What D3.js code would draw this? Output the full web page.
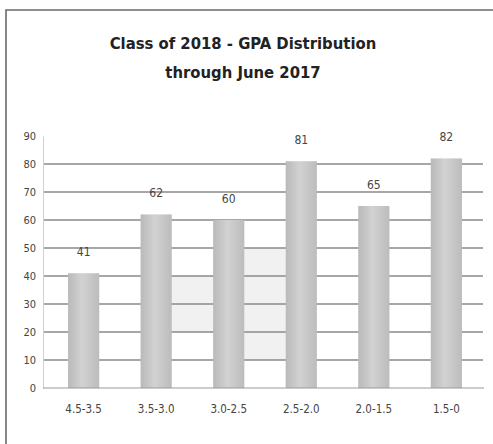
<!DOCTYPE html>
<html>
<head>
<meta charset="utf-8">
<script src="https://cdn.jsdelivr.net/npm/d3@7"></script>
<style>
  body { margin: 0; background: #fff; }
  svg { display: block; }
</style>
</head>
<body>
<div id="chart"></div>
<script>
var width = 493,
    height = 444;

// data
var categories = ["4.5-3.5", "3.5-3.0", "3.0-2.5", "2.5-2.0", "2.0-1.5", "1.5-0"];
var students = [41, 62, 60, 81, 65, 82];
var yTicks = [0, 10, 20, 30, 40, 50, 60, 70, 80, 90];
var titleLines = ["Class of 2018 - GPA Distribution", "through June 2017"];

var svg = d3.select("#chart").append("svg")
    .attr("width", width)
    .attr("height", height);

var narrow = "'Liberation Sans Narrow', 'DejaVu Sans Condensed', 'Roboto', sans-serif";

// bar shading, a bit darker at the edges
var grad = svg.append("defs").append("linearGradient")
    .attr("id", "barfill")
    .attr("x1", "0%").attr("x2", "100%");
grad.append("stop").attr("offset", "0%").attr("stop-color", "#b9b9b9");
grad.append("stop").attr("offset", "45%").attr("stop-color", "#d2d2d2");
grad.append("stop").attr("offset", "100%").attr("stop-color", "#bcbcbc");

// frame
svg.append("path")
    .attr("d", "M6,444 V10 H493")
    .attr("fill", "none")
    .attr("stroke", "#6a6a6a")
    .attr("stroke-width", 1.6);

var x = d3.scaleBand()
    .domain(categories)
    .range([47, 483])
    .paddingInner(0.57)
    .paddingOuter(0.29);

var y = d3.scaleLinear()
    .domain([0, 90])
    .range([388, 136]);

// faint shaded patches behind the middle bars (as in the scan)
var g = svg.append("g");
g.append("rect")
    .attr("x", x(categories[1]) + x.bandwidth())
    .attr("y", y(40))
    .attr("width", x(categories[2]) - x(categories[1]) - x.bandwidth())
    .attr("height", y(20) - y(40))
    .attr("fill", "#f1f1f1");
g.append("rect")
    .attr("x", x(categories[2]) + x.bandwidth())
    .attr("y", y(50))
    .attr("width", x(categories[3]) - x(categories[2]) - x.bandwidth())
    .attr("height", y(10) - y(50))
    .attr("fill", "#f1f1f1");

// gridlines
g.selectAll(".grid")
    .data(yTicks.filter(function(d) { return d > 0 && d < 90; }))
  .enter().append("line")
    .attr("class", "grid")
    .attr("x1", 44)
    .attr("x2", 483)
    .attr("y1", function(d) { return y(d); })
    .attr("y2", function(d) { return y(d); })
    .attr("stroke", "#8a8a8a")
    .attr("stroke-width", 1.4);

// y axis
var yAxis = svg.append("g")
    .attr("transform", "translate(43,0)")
    .call(d3.axisLeft(y).tickValues(yTicks).tickSize(0).tickPadding(7));
yAxis.select(".domain").attr("stroke", "#d0d0d0");
yAxis.selectAll("text")
    .attr("fill", "#444")
    .style("font-family", narrow)
    .style("font-size", "11px");

// bars
svg.selectAll(".bar")
    .data(students)
  .enter().append("rect")
    .attr("class", "bar")
    .attr("x", function(d, i) { return x(categories[i]); })
    .attr("y", function(d) { return y(d); })
    .attr("width", x.bandwidth())
    .attr("height", function(d) { return y(0) - y(d); })
    .attr("fill", "url(#barfill)");

// baseline
svg.append("line")
    .attr("x1", 43).attr("x2", 484)
    .attr("y1", y(0)).attr("y2", y(0))
    .attr("stroke", "#9a9a9a")
    .attr("stroke-width", 1.2);

// value labels
svg.selectAll(".val")
    .data(students)
  .enter().append("text")
    .attr("class", "val")
    .attr("x", function(d, i) { return x(categories[i]) + x.bandwidth() / 2; })
    .attr("y", function(d) { return y(d) - 17; })
    .attr("text-anchor", "middle")
    .attr("fill", "#444")
    .style("font-family", narrow)
    .style("font-size", "12px")
    .text(function(d) { return d; });

// x axis labels
var xAxis = svg.append("g")
    .attr("transform", "translate(0," + y(0) + ")")
    .call(d3.axisBottom(x).tickSize(0).tickPadding(17));
xAxis.select(".domain").remove();
xAxis.selectAll("text")
    .attr("fill", "#444")
    .style("font-family", narrow)
    .style("font-size", "11.5px");

// title
svg.selectAll(".title")
    .data(titleLines)
  .enter().append("text")
    .attr("class", "title")
    .attr("x", 243)
    .attr("y", function(d, i) { return 49 + i * 29; })
    .attr("text-anchor", "middle")
    .attr("fill", "#222")
    .style("font-family", "'DejaVu Sans Condensed', 'Open Sans', sans-serif")
    .style("font-weight", "bold")
    .style("font-size", "16.5px")
    .text(function(d) { return d; });
</script>
</body>
</html>
